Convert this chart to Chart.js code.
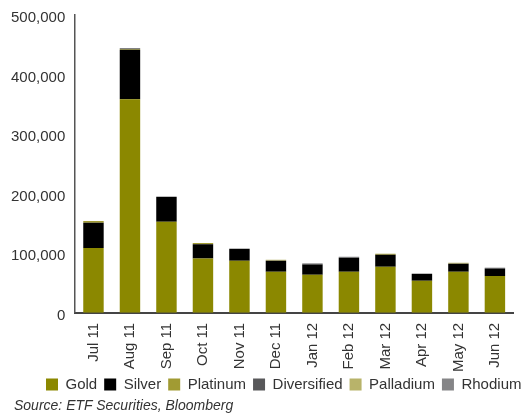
<!DOCTYPE html>
<html>
<head>
<meta charset="utf-8">
<script src="https://cdn.jsdelivr.net/npm/chart.js@4/dist/chart.umd.min.js"></script>
<style>
  html, body { margin: 0; padding: 0; background: #fff; }
  #wrap { position: relative; width: 523px; height: 414px; overflow: hidden; }
  #c { position: absolute; left: 0; top: 0; }
  #src { position: absolute; left: 14px; top: 397px; font: italic 14px "Liberation Sans", Arial, sans-serif; color: #333; white-space: nowrap; }
</style>
</head>
<body>
<div id="wrap">
  <canvas id="c" width="523" height="414"></canvas>
  <div id="src">Source: ETF Securities, Bloomberg</div>
</div>
<script>
const months = ['Jul 11','Aug 11','Sep 11','Oct 11','Nov 11','Dec 11','Jan 12','Feb 12','Mar 12','Apr 12','May 12','Jun 12'];
const gold        = [109000, 358500, 153000, 91000, 87500, 69000, 64000, 69000, 77500, 54000, 69000, 62000];
const silver      = [42000, 83000, 42000, 24000, 20000, 18500, 17000, 23500, 20000, 11500, 13500, 12000];
const platinum    = [3000, 1500, 0, 2300, 0, 0, 0, 0, 1700, 0, 0, 0];
const diversified = [0, 1300, 0, 0, 0, 0, 1700, 0, 0, 0, 0, 1700];
const palladium   = [0, 0, 0, 0, 0, 1700, 0, 0, 0, 0, 1700, 0];
const rhodium     = [0, 0, 0, 0, 0, 0, 0, 1700, 0, 0, 0, 0];
const yTicks = [0, 100000, 200000, 300000, 400000, 500000];

const FONT = '"Liberation Sans", Arial, sans-serif';
const mk = (label, data, color) => ({ label, data, backgroundColor: color, borderWidth: 0, barPercentage: 0.56, categoryPercentage: 1 });

const legendShift = {
  id: 'legendShift',
  afterLayout(chart) {
    const lg = chart.legend;
    if (!lg) return;
    lg.top -= 12; lg.bottom -= 12;
    lg.right = 46 + lg.lineWidths[0];
  }
};

new Chart(document.getElementById('c'), {
  type: 'bar',
  data: {
    labels: months,
    datasets: [
      mk('Gold', gold, '#8b8800'),
      mk('Silver', silver, '#000000'),
      mk('Platinum', platinum, '#a19b33'),
      mk('Diversified', diversified, '#58585a'),
      mk('Palladium', palladium, '#b8b36a'),
      mk('Rhodium', rhodium, '#858587')
    ]
  },
  plugins: [legendShift],
  options: {
    responsive: false,
    animation: false,
    layout: { padding: { top: 15, right: 2, left: 1, bottom: 0 } },
    plugins: {
      legend: {
        position: 'bottom',
        align: 'end',
        labels: {
          boxWidth: 12, boxHeight: 12, padding: 7,
          color: '#333',
          font: { family: FONT, size: 15 }
        }
      },
      tooltip: { enabled: false }
    },
    scales: {
      x: {
        stacked: true,
        grid: { display: false, drawTicks: false },
        border: { display: true, color: '#444', width: 2 },
        ticks: {
          color: '#333', font: { family: FONT, size: 15 },
          maxRotation: 90, minRotation: 90, padding: 10, autoSkip: false
        }
      },
      y: {
        stacked: true,
        min: 0, max: 500000,
        afterBuildTicks: (axis) => { axis.ticks = yTicks.map(v => ({ value: v })); },
        afterFit: (s) => { s.paddingTop = 0; s.paddingBottom = 0; },
        grid: { display: false, drawTicks: false },
        border: { display: true, color: '#555', width: 1.5 },
        ticks: {
          color: '#333', font: { family: FONT, size: 15 }, padding: 10, labelOffset: 3,
          callback: (v) => v.toLocaleString('en-US')
        }
      }
    }
  }
});
</script>
</body>
</html>
